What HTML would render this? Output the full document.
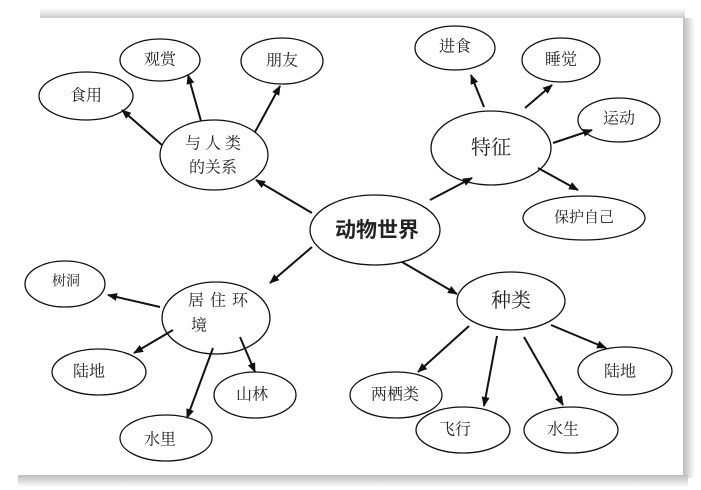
<!DOCTYPE html>
<html><head><meta charset="utf-8"><style>
body{margin:0;background:#fff;width:701px;height:490px;overflow:hidden}
svg{display:block}
text{font-family:"Liberation Serif","Noto Serif CJK SC","Noto Sans CJK SC",serif;fill:#222;text-anchor:middle;dominant-baseline:central}
</style></head><body>
<svg width="701" height="490" viewBox="0 0 701 490">
<defs>
<marker id="a" markerWidth="10" markerHeight="8" refX="9" refY="4" orient="auto" markerUnits="userSpaceOnUse"><path d="M0,0 L10,4 L0,8 Z" fill="#111"/></marker>
<linearGradient id="sr" x1="0" x2="1"><stop offset="0" stop-color="#bbb"/><stop offset="1" stop-color="#fff"/></linearGradient>
<linearGradient id="sb" x1="0" y1="0" x2="0" y2="1"><stop offset="0" stop-color="#bbb"/><stop offset="1" stop-color="#fff"/></linearGradient>
<linearGradient id="st" x1="0" y1="0" x2="0" y2="1"><stop offset="0" stop-color="#fff"/><stop offset="1" stop-color="#ccc"/></linearGradient>
</defs>
<rect x="40" y="8" width="645" height="10" fill="url(#st)"/>
<rect x="683" y="18" width="12" height="460" fill="url(#sr)"/>
<rect x="18" y="475" width="670" height="12" fill="url(#sb)"/>
<rect x="16" y="18" width="667" height="457" fill="#fff"/>
<g fill="none" stroke="#111" stroke-width="1.3">
<ellipse cx="160" cy="60" rx="40" ry="21"/>
<ellipse cx="282" cy="61" rx="41" ry="23"/>
<ellipse cx="86" cy="96" rx="47" ry="24"/>
<ellipse cx="214" cy="155" rx="54" ry="35"/>
<ellipse cx="375" cy="230" rx="65" ry="35"/>
<ellipse cx="455" cy="48" rx="40" ry="22"/>
<ellipse cx="561" cy="60" rx="39" ry="22"/>
<ellipse cx="491" cy="148" rx="60" ry="37"/>
<ellipse cx="619" cy="120" rx="41" ry="22"/>
<ellipse cx="584" cy="218" rx="61" ry="22"/>
<ellipse cx="65" cy="284" rx="40" ry="23"/>
<ellipse cx="216" cy="318" rx="54" ry="36"/>
<ellipse cx="99" cy="372" rx="47" ry="23"/>
<ellipse cx="255" cy="395" rx="41" ry="23"/>
<ellipse cx="166" cy="438" rx="46" ry="23"/>
<ellipse cx="511" cy="301" rx="54" ry="29"/>
<ellipse cx="396" cy="395" rx="46" ry="23"/>
<ellipse cx="463" cy="430" rx="47" ry="23"/>
<ellipse cx="571" cy="430" rx="47" ry="23"/>
<ellipse cx="625" cy="371" rx="47" ry="24"/>
</g>
<g stroke="#111" stroke-width="2" marker-end="url(#a)">
<line x1="312" y1="213" x2="256" y2="180"/>
<line x1="162" y1="145" x2="122" y2="110"/>
<line x1="201" y1="121" x2="188" y2="75"/>
<line x1="255" y1="132" x2="280" y2="86"/>
<line x1="430" y1="200" x2="472" y2="178"/>
<line x1="484" y1="107" x2="471" y2="75"/>
<line x1="525" y1="108" x2="552" y2="85"/>
<line x1="553" y1="143" x2="592" y2="130"/>
<line x1="538" y1="168" x2="578" y2="190"/>
<line x1="312" y1="247" x2="270" y2="283"/>
<line x1="160" y1="307" x2="108" y2="295"/>
<line x1="173" y1="330" x2="134" y2="353"/>
<line x1="213" y1="348" x2="187" y2="418"/>
<line x1="240" y1="337" x2="255" y2="372"/>
<line x1="402" y1="262" x2="457" y2="294"/>
<line x1="469" y1="326" x2="418" y2="372"/>
<line x1="497" y1="336" x2="484" y2="406"/>
<line x1="524" y1="337" x2="563" y2="405"/>
<line x1="551" y1="325" x2="606" y2="348"/>
</g>
<g font-size="16">
<text x="160" y="60">观赏</text>
<text x="282" y="61">朋友</text>
<text x="86" y="96">食用</text>
<text x="215" y="144" letter-spacing="4">与人类</text>
<text x="213" y="168">的关系</text>
<text x="455" y="47">进食</text>
<text x="561" y="60">睡觉</text>
<text x="491" y="148" font-size="20">特征</text>
<text x="619" y="119">运动</text>
<text x="584" y="218" font-size="15">保护自己</text>
<text x="66" y="282" font-size="14">树洞</text>
<text x="221" y="301" letter-spacing="6">居住环</text>
<text x="199" y="326">境</text>
<text x="89" y="372">陆地</text>
<text x="252" y="395">山林</text>
<text x="160" y="440">水里</text>
<text x="511" y="301" font-size="20">种类</text>
<text x="395" y="395">两栖类</text>
<text x="455" y="430">飞行</text>
<text x="563" y="430">水生</text>
<text x="620" y="372">陆地</text>
<text x="377" y="229" font-size="21" font-weight="bold" style="font-family:'Noto Sans CJK SC',sans-serif">动物世界</text>
</g>
</svg>
</body></html>
